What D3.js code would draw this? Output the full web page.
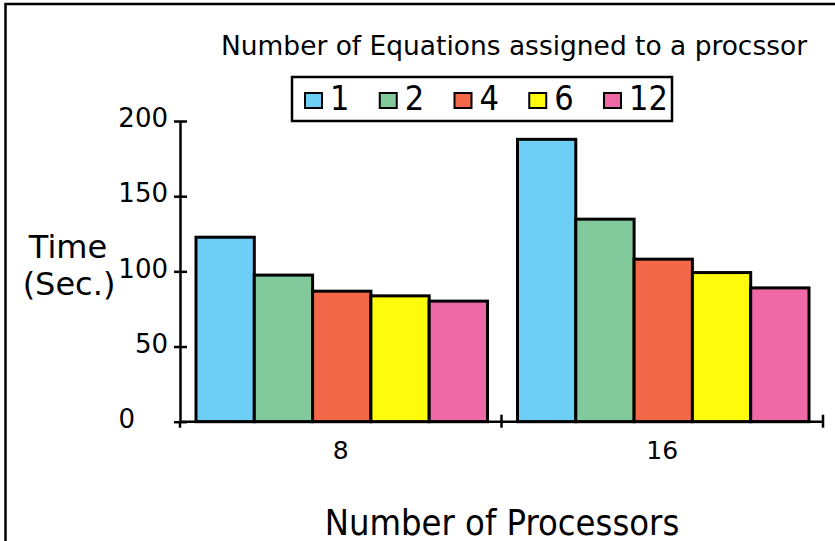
<!DOCTYPE html>
<html>
<head>
<meta charset="utf-8">
<script src="https://cdn.jsdelivr.net/npm/d3@7"></script>
<style>
  body { margin: 0; background: #fff; }
  svg text { font-family: "DejaVu Sans Condensed", "Liberation Sans Narrow", "Open Sans", sans-serif; fill: #000; }
  svg .wide { font-family: "DejaVu Sans", "Open Sans", sans-serif; }
</style>
</head>
<body>
<div id="chart"></div>
<script>
// data
const processors = ["8", "16"];
const equations = ["1", "2", "4", "6", "12"];
const time8 = [122.7, 97.5, 86.8, 83.7, 80.2];
const time16 = [187.8, 134.7, 108.1, 99.2, 89];
const barColors = ["#6dcff6", "#82ca9c", "#f26849", "#fffb0d", "#f069a7"];
const yTicks = [0, 50, 100, 150, 200];

const width = 835, height = 541;
const margin = {left: 180, right: 12, top: 121, bottom: 119};

const svg = d3.select("#chart").append("svg")
    .attr("width", width)
    .attr("height", height);

// frame (only top and left edges show)
svg.append("rect")
    .attr("x", 5.5).attr("y", 4)
    .attr("width", width + 20).attr("height", height + 20)
    .attr("fill", "none")
    .attr("stroke", "#000")
    .attr("stroke-width", 2.5);

const x0 = d3.scaleBand()
    .domain(processors)
    .range([margin.left, width - margin.right]);

const x1 = d3.scaleBand()
    .domain(equations)
    .range([16, x0.bandwidth() - 14]);

const y = d3.scaleLinear()
    .domain([0, 200])
    .range([height - margin.bottom - 0.3, margin.top]);

const series = processors.map((p, i) => ({
    proc: p,
    vals: (i == 0 ? time8 : time16).map((v, j) => ({eq: equations[j], v: v, c: barColors[j]}))
}));

// bars
svg.append("g")
    .selectAll("g")
    .data(series)
    .join("g")
    .attr("transform", d => `translate(${x0(d.proc)},0)`)
    .selectAll("rect")
    .data(d => d.vals)
    .join("rect")
    .attr("x", d => x1(d.eq))
    .attr("y", d => y(d.v))
    .attr("width", x1.bandwidth())
    .attr("height", d => y(0) - y(d.v))
    .attr("fill", d => d.c)
    .attr("stroke", "#000")
    .attr("stroke-width", 3);

// y axis, ticks cross the line
const yAxis = svg.append("g")
    .attr("transform", `translate(${margin.left},0)`)
    .call(d3.axisLeft(y).tickValues(yTicks).tickSize(6).tickPadding(6).tickSizeOuter(0));
yAxis.select(".domain").attr("stroke-width", 2.5);
yAxis.selectAll(".tick line").attr("x1", 7).attr("stroke-width", 2.5);
yAxis.selectAll(".tick text")
    .attr("class", "wide")
    .style("font-size", "26px")
    .attr("dy", "0.22em")
    .attr("x", d => d == 0 ? -45 : -12);

// x axis: line, boundary ticks, centred labels
const xg = svg.append("g").attr("transform", `translate(0,${y(0)})`);
xg.append("line")
    .attr("x1", x0.range()[0]).attr("x2", x0.range()[1])
    .attr("stroke", "#000").attr("stroke-width", 2.5);
const bounds = processors.map(p => x0(p)).concat([x0.range()[1]]);
xg.selectAll(".bound")
    .data(bounds)
    .join("line")
    .attr("class", "bound")
    .attr("x1", d => d).attr("x2", d => d)
    .attr("y1", (d, i) => i == 0 ? 0 : -7).attr("y2", 6)
    .attr("stroke", "#000").attr("stroke-width", 2.5);

const xAxis = svg.append("g")
    .attr("transform", `translate(0,${y(0)})`)
    .call(d3.axisBottom(x0).tickSize(0).tickPadding(20));
xAxis.select(".domain").remove();
xAxis.selectAll(".tick text").attr("class", "wide").style("font-size", "25px");

// axis titles
svg.append("text")
    .attr("x", 502).attr("y", 535)
    .attr("text-anchor", "middle")
    .style("font-size", "36px")
    .text("Number of Processors");

const yt = svg.append("text")
    .attr("class", "wide")
    .attr("text-anchor", "middle")
    .style("font-size", "32px");
yt.append("tspan").attr("x", 68).attr("y", 258).text("Time");
yt.append("tspan").attr("x", 69).attr("y", 295).text("(Sec.)");

// legend title
svg.append("text")
    .attr("x", 514).attr("y", 55)
    .attr("text-anchor", "middle")
    .style("font-size", "27px")
    .attr("textLength", 586)
    .attr("lengthAdjust", "spacingAndGlyphs")
    .text("Number of Equations assigned to a procssor");

// legend box
const leg = svg.append("g").attr("transform", "translate(292,77)");
leg.append("rect")
    .attr("width", 380).attr("height", 44)
    .attr("fill", "#fff").attr("stroke", "#000").attr("stroke-width", 2.5);

const legX = d3.scalePoint()
    .domain(equations)
    .range([13, 312]);

const item = leg.selectAll(".item")
    .data(equations.map((e, i) => ({eq: e, c: barColors[i]})))
    .join("g")
    .attr("class", "item")
    .attr("transform", d => `translate(${legX(d.eq)},0)`);
item.append("rect")
    .attr("y", 16).attr("width", 17).attr("height", 15)
    .attr("fill", d => d.c).attr("stroke", "#000").attr("stroke-width", 2);
item.append("text")
    .attr("x", 25).attr("y", 33)
    .style("font-size", "34px")
    .text(d => d.eq);
</script>
</body>
</html>
